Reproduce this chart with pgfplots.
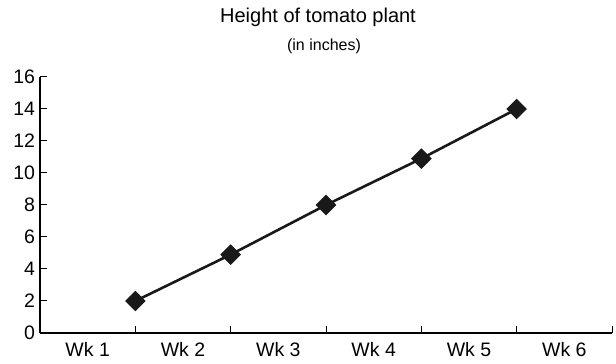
\documentclass[border=0pt]{standalone}
\usepackage{pgfplots}
\pgfplotsset{compat=1.18}
\usepackage{fontspec}
\setmainfont{Liberation Sans}
\begin{document}
\begin{tikzpicture}[x=1pt,y=1pt]
\path[use as bounding box] (0,0) rectangle (616,364);
\begin{axis}[
  at={(40pt,31pt)}, anchor=south west,
  scale only axis, width=572pt, height=256pt,
  xmin=0, xmax=6, ymin=0, ymax=16,
  axis lines=left, axis line style={line width=1.3pt, -},
  xtick={0,1,2,3,4,5,6},
  x tick label as interval,
  xticklabels={Wk 1,Wk 2,Wk 3,Wk 4,Wk 5,Wk 6},
  ytick={0,2,...,16},
  tick align=inside,
  major tick length=6.5pt,
  tick style={line width=1pt, black},
  tick label style={font=\fontsize{19.5}{22}\selectfont},
  /pgf/number format/assume math mode=true,
  xticklabel style={yshift=-6pt},
  yticklabel style={xshift=-1.5pt},
  clip=false,
]
\addplot[line width=2.6pt, black!90, mark=square*, mark size=6pt, mark options={solid, fill=black!90, rotate=45}]
  coordinates {(1,2) (2,4.9) (3,8) (4,10.9) (5,14)};
\end{axis}
\node at (318,346.5) {\fontsize{20}{24}\selectfont Height of tomato plant};
\node at (324,318) {\fontsize{16}{19}\selectfont (in inches)};
\end{tikzpicture}
\end{document}
